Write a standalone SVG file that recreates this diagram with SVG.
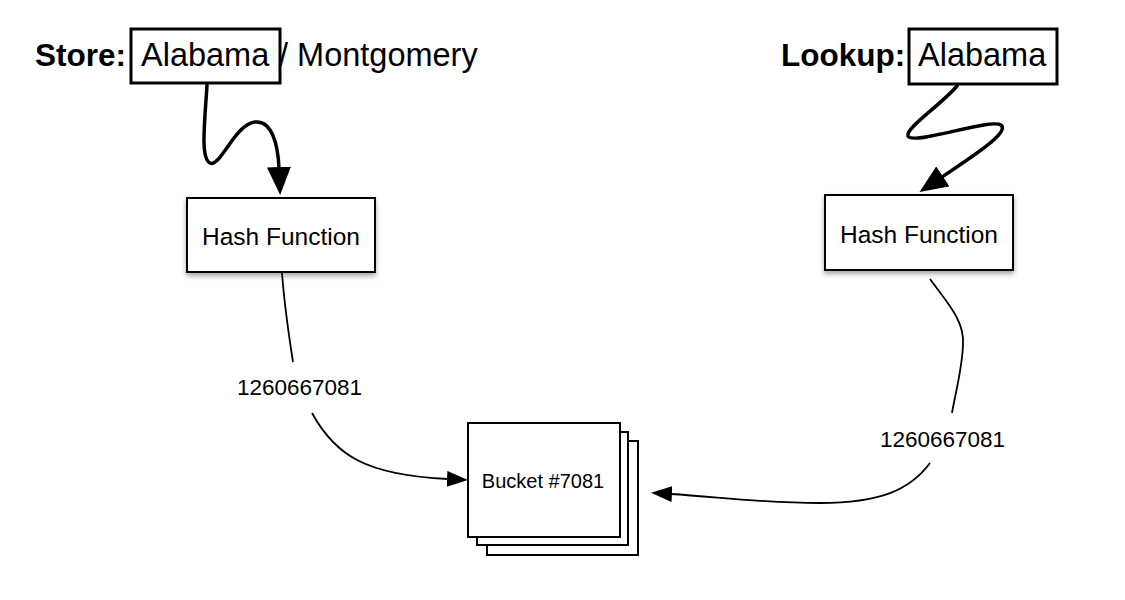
<svg xmlns="http://www.w3.org/2000/svg" width="1125" height="600" viewBox="0 0 1125 600">
  <style>
    text { font-family: "Liberation Sans", Arial, Helvetica, sans-serif; fill: #000; }
    .big { font-size: 32.5px; }
    .bold { font-weight: bold; font-size: 31.5px; }
    .key { fill: #fff; stroke: #000; stroke-width: 3; }
    .hash { fill: #fff; stroke: #000; stroke-width: 2; filter: url(#shadow); }
    .bucket { fill: #fff; stroke: #000; stroke-width: 2; }
    .thick { fill: none; stroke: #000; stroke-width: 3.5; stroke-linecap: round; }
    .thin { fill: none; stroke: #000; stroke-width: 1.8; }
    .hf { font-size: 24.5px; }
    .num { font-size: 22.5px; }
  </style>
  <defs>
    <filter id="shadow" x="-20%" y="-20%" width="140%" height="150%">
      <feDropShadow dx="0" dy="3" stdDeviation="2.5" flood-color="#000" flood-opacity="0.35"/>
    </filter>
    <marker id="bigArrow" markerUnits="userSpaceOnUse" markerWidth="30" markerHeight="24" refX="1" refY="12" orient="auto">
      <path d="M0,0 L28,12 L0,24 Z" fill="#000"/>
    </marker>
    <marker id="smallArrow" markerUnits="userSpaceOnUse" markerWidth="22" markerHeight="16" refX="1" refY="8" orient="auto">
      <path d="M0,0 L21,8 L0,16 Z" fill="#000"/>
    </marker>
  </defs>
  <rect width="1125" height="600" fill="#fff"/>

  <g id="store">
    <text class="bold" x="35" y="66">Store:</text>
    <rect class="key" x="131" y="29" width="149" height="54"/>
    <text class="big" x="141" y="66">Alabama</text>
    <text class="big" x="279" y="66" font-size="34">/ Montgomery</text>
  </g>

  <g id="lookup">
    <text class="bold" x="781" y="66">Lookup:</text>
    <rect class="key" x="909" y="29" width="148" height="55"/>
    <text class="big" x="918" y="66">Alabama</text>
  </g>

  <g id="hash-left">
    <rect class="hash" x="187" y="198" width="188" height="74"/>
    <text class="hf" x="281" y="245" text-anchor="middle">Hash Function</text>
  </g>

  <g id="hash-right">
    <rect class="hash" x="825" y="195" width="188" height="75"/>
    <text class="hf" x="919" y="243" text-anchor="middle">Hash Function</text>
  </g>

  <g id="bucket">
    <rect class="bucket" x="487" y="441" width="151" height="114"/>
    <rect class="bucket" x="477" y="432" width="151" height="113"/>
    <rect class="bucket" x="468" y="423" width="152" height="114"/>
    <text x="543" y="488" font-size="20" text-anchor="middle">Bucket #7081</text>
  </g>

  <g id="labels">
    <text class="num" x="237" y="395">1260667081</text>
    <text class="num" x="880" y="447">1260667081</text>
  </g>

  <g id="connectors">
    <path class="thick" d="M207,85 C205,120 200,158 210,163 C220,168 235,124 255,122 C272,120 278,145 279,168" marker-end="url(#bigArrow)"/>
    <path class="thick" d="M957,86 C940,106 905,128 908,136 C912,146 990,118 1001,125 C1010,132 975,155 942,177" marker-end="url(#bigArrow)"/>
    <path class="thin" d="M282,273 C284,300 288,330 293,362"/>
    <path class="thin" d="M312,413 C335,455 365,475 448,479" marker-end="url(#smallArrow)"/>
    <path class="thin" d="M930,279 C945,300 965,320 963,345 C962,370 955,395 952,413"/>
    <path class="thin" d="M930,463 C910,490 880,503 820,503 C760,503 720,497 671,494" marker-end="url(#smallArrow)"/>
  </g>
</svg>
